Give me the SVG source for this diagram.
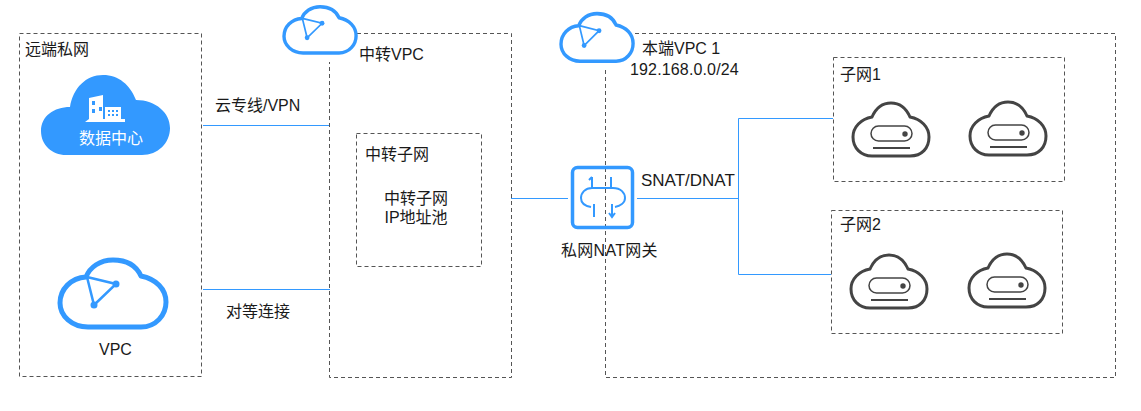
<svg xmlns="http://www.w3.org/2000/svg" xmlns:xlink="http://www.w3.org/1999/xlink" width="1141" height="411" viewBox="0 0 1141 411">
<style>
text{font-family:"Liberation Sans","Noto Sans CJK SC",sans-serif;font-size:16px;fill:#1a1a1a}
.box{fill:none;stroke:#555;stroke-width:1;stroke-dasharray:4 3}
.link{fill:none;stroke:#3399ff;stroke-width:1}
.vpc{fill:#fff;stroke:#3399ff;stroke-width:5;stroke-linejoin:round}
.srv{fill:#fff;stroke:#444;stroke-width:3}
</style>
<defs>
<g id="vpcIcon">
<path class="vpc" d="M88 327H141C156 327 166 315 166 302C166 289 156 279 141 276C136 265 126 260 113 260C100 260 90 267 86 277C71 278 60 289 60 303C60 316 72 327 88 327Z"/>
<path d="M87 277L116 284L94 305Z" fill="none" stroke="#3399ff" stroke-width="2.500"/>
<circle cx="116" cy="284" r="3.500" fill="#3399ff"/>
<circle cx="94" cy="305" r="3.500" fill="#3399ff"/>
</g>
<g id="srvIcon">
<path class="srv" d="M20 55H58C70 55 77 47 77 36C77 26 69 18 58 16C54 7 48 2 39 2C30 2 24 7 20 16C9 18 1 26 1 36C1 47 9 55 20 55Z"/>
<rect x="19" y="25" width="41" height="15" rx="7.500" fill="none" stroke="#444" stroke-width="1.500"/>
<circle cx="53" cy="33" r="2.700" fill="#444"/>
<path d="M21 47H58" stroke="#444" stroke-width="2"/>
</g>
</defs>
<g id="connectors">
<path class="link" d="M203 125.500H330"/>
<path class="link" d="M203 289.500H330"/>
<path class="link" d="M511 198.500H568"/>
<path class="link" d="M637 198.500H738.500"/>
<path class="link" d="M833 118.500H738.500V274.500H831"/>
</g>
<g id="remote">
<rect class="box" x="19.500" y="33.500" width="182" height="343"/>
<text x="25" y="55">远端私网</text>
</g>
<g id="transit-vpc">
<path class="box" d="M357 33.500H511.500V377.500H329.500V62"/>
<use xlink:href="#vpcIcon" href="#vpcIcon" transform="translate(243.200 -172.700) scale(.68 .69)"/>
<text x="359" y="60">中转VPC</text>
</g>
<g id="transit-subnet">
<rect class="box" x="356.500" y="133.500" width="125" height="133"/>
<text x="365" y="160">中转子网</text>
<text x="416" y="204" text-anchor="middle">中转子网</text>
<text x="416" y="223" text-anchor="middle">IP地址池</text>
</g>
<g id="local-vpc">
<path class="box" d="M635 33.500H1115.500V377.500H605.500V70"/>
<use xlink:href="#vpcIcon" href="#vpcIcon" transform="translate(520.200 -171) scale(.68 .71)"/>
<text x="642" y="54">本端VPC 1</text>
<text x="630" y="75" letter-spacing=".15">192.168.0.0/24</text>
</g>
<g id="datacenter">
<path fill="#3399ff" d="M66 155H142C158 155 170 143 170 128C170 113 156 100 136 100C130 85 119 75 103 75C86 75 73 88 70 107C54 107 41 116 41 131C41 145 52 155 66 155Z"/>
<path fill="#fff" d="M89 98L103 95V119H105V107H121V119H125V122H85L89 119Z"/>
<g fill="#3399ff"><rect x="92" y="101" width="3" height="4"/><rect x="99" y="107" width="3" height="4"/><rect x="92" y="109" width="3" height="4"/><rect x="103" y="107" width="2" height="12"/><rect x="108" y="110" width="2" height="2"/><rect x="112" y="110" width="2" height="2"/><rect x="116" y="110" width="2" height="2"/><rect x="108" y="114" width="2" height="2"/><rect x="112" y="114" width="2" height="2"/><rect x="116" y="114" width="2" height="2"/></g>
<text x="79" y="144" style="fill:#fff">数据中心</text>
</g>
<g id="vpc">
<use xlink:href="#vpcIcon" href="#vpcIcon"/>
<text x="99" y="355">VPC</text>
</g>
<g id="labels">
<text x="215" y="111">云专线/VPN</text>
<text x="226" y="317">对等连接</text>
<text x="641" y="186" style="font-size:17px">SNAT/DNAT</text>
</g>
<g id="nat">
<rect x="572.500" y="167.500" width="60" height="60" rx="5" fill="none" stroke="#3399ff" stroke-width="3.500"/>
<path fill="none" stroke="#3399ff" stroke-width="2" d="M592 177V188M611 177V188M592 188H613C621 188 625 193 625 198C625 203 620 206 615 207M592 188C585 188 581 193 581 198C581 203 585 206 591 207M594 204V217M612 204V217M609 213L612 217L615 213M589 180L592 177"/>
<text x="561" y="256" letter-spacing=".3">私网NAT网关</text>
</g>
<g id="subnet1">
<rect class="box" x="833.500" y="57.500" width="231" height="124"/>
<text x="840" y="80">子网1</text>
<use xlink:href="#srvIcon" href="#srvIcon" x="852" y="101"/>
<use xlink:href="#srvIcon" href="#srvIcon" x="969" y="100"/>
</g>
<g id="subnet2">
<rect class="box" x="831.500" y="210.500" width="231" height="123"/>
<text x="840" y="230">子网2</text>
<use xlink:href="#srvIcon" href="#srvIcon" x="850" y="253"/>
<use xlink:href="#srvIcon" href="#srvIcon" x="968" y="252"/>
</g>
</svg>
